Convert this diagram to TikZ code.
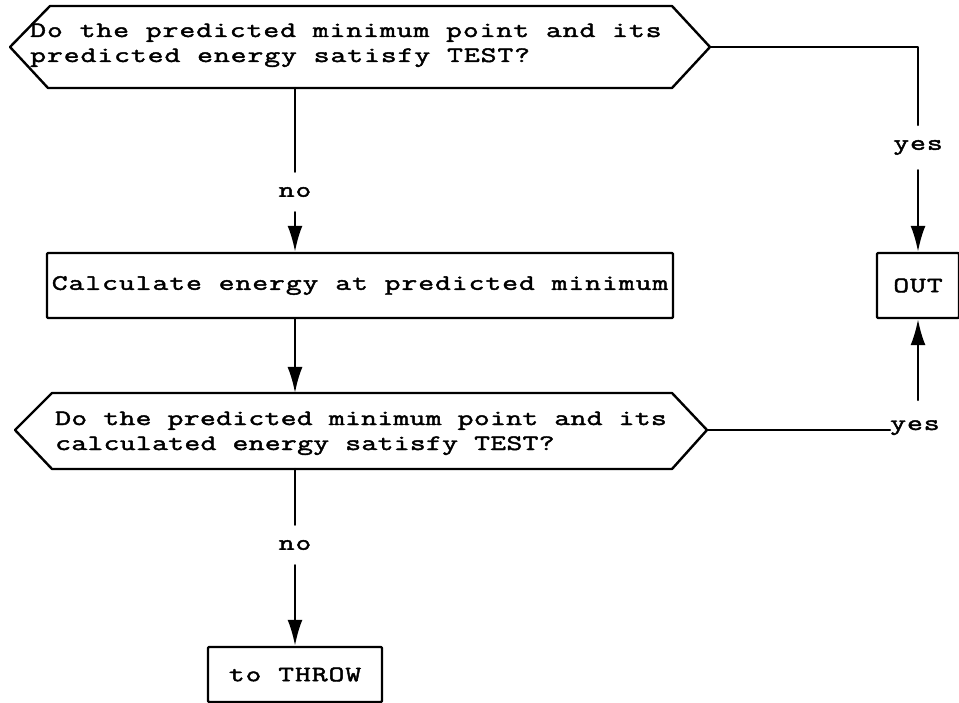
\documentclass[tikz,border=0pt]{standalone}
\usepackage{fontspec}
\setmainfont{Latin Modern Mono}[FakeStretch=1.4,LetterSpace=4.2,FakeBold=2]
\usetikzlibrary{arrows.meta}
\tikzset{
  typed/.style={font=\fontsize{22pt}{25pt}\selectfont, inner sep=0pt},
  tight/.style={font=\fontsize{22pt}{25pt}\selectfont\addfontfeatures{LetterSpace=1.3}},
  flowline/.style={line width=2.3pt, line cap=round, line join=round},
  arr/.style={flowline, -{Latex[length=26pt,width=15pt]}},
  boxnode/.style={typed, draw, line width=2.4pt, line join=round, rounded corners=1pt},
  lbl/.style={typed}
}
\begin{document}
\begin{tikzpicture}[x=1pt,y=-1pt]
\useasboundingbox (0,0) rectangle (959,703);
% decision 1
\draw[flowline, line width=2.4pt] (10,47) -- (50,6) -- (672,6) -- (710,47) -- (672,88) -- (48,88) -- cycle;
\coordinate (h1E) at (710,47);
\coordinate (h1S) at (295,88);
\node[typed, anchor=base west] (q1a) at (30,37) {Do the predicted minimum point and its};
\node[typed, anchor=base west] (q1b) at (30,62) {predicted energy satisfy TEST?};
% decision 2
\draw[flowline, line width=2.4pt] (15,430) -- (52,393) -- (672,393) -- (707,430) -- (672,469) -- (52,469) -- cycle;
\coordinate (h2E) at (707,430);
\coordinate (h2N) at (295,393);
\coordinate (h2S) at (295,469);
\node[typed, tight, anchor=base west] (q2a) at (55,425) {Do the predicted minimum point and its};
\node[typed, tight, anchor=base west] (q2b) at (55,450) {calculated energy satisfy TEST?};
% boxes
\node[boxnode, minimum width=626pt, minimum height=65pt] (calc) at (360,285.5) {Calculate energy at predicted minimum};
\node[boxnode, minimum width=82pt, minimum height=65pt] (out) at (918,285.5) {OUT};
\node[boxnode, minimum width=174pt, minimum height=55pt] (throw) at (295,674.5) {to THROW};
% labels
\node[lbl, minimum height=40pt] (no1) at (295,192) {no};
\node[lbl, minimum height=40pt] (no2) at (295,545) {no};
\node[lbl, minimum height=45pt] (yes1) at (918,147.5) {yes};
\node[lbl, anchor=base west] (yes2) at (890,430) {yes};
\coordinate (c1) at (918,125);
\coordinate (c2) at (918,400);
% connectors
\draw[flowline] (h1S) -- (no1.north);
\draw[arr] (no1.south) -- (no1.south |- calc.north);
\draw[arr] (h2N |- calc.south) -- (h2N);
\draw[flowline] (h2S) -- (no2.north);
\draw[arr] (no2.south) -- (throw.north);
\draw[flowline] (h1E) -| (c1);
\draw[arr] (yes1.south) -- (out.north);
\draw[flowline] (h2E) -- (yes2.base west);
\draw[arr] (c2) -- (out.south);
\end{tikzpicture}
\end{document}
